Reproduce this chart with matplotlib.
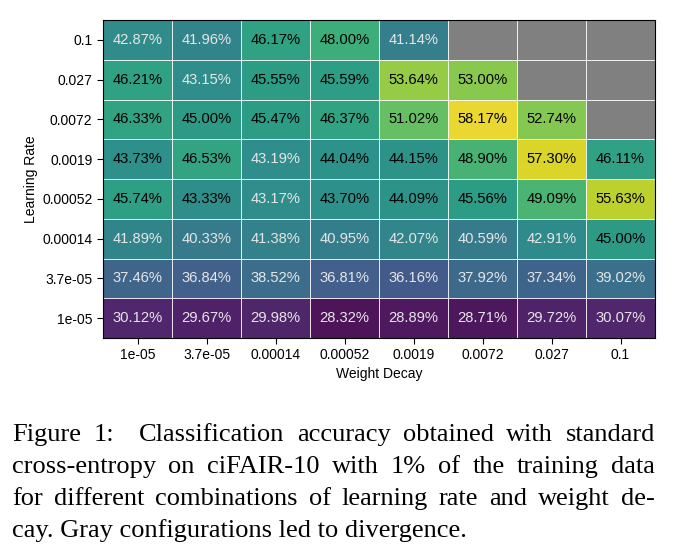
# heatmap of accuracy over learning rate / weight decay grid

import numpy as np
import matplotlib
matplotlib.use("Agg")
import matplotlib.pyplot as plt

plt.rcParams["font.family"] = ["Liberation Sans", "DejaVu Sans"]

# Data (rows top -> bottom)

learning_rates = ["0.1", "0.027", "0.0072", "0.0019", "0.00052", "0.00014", "3.7e-05", "1e-05"]
weight_decays = ["1e-05", "3.7e-05", "0.00014", "0.00052", "0.0019", "0.0072", "0.027", "0.1"]

nan = np.nan
acc_lr_0_1 = [42.87, 41.96, 46.17, 48.00, 41.14, nan, nan, nan]
acc_lr_0_027 = [46.21, 43.15, 45.55, 45.59, 53.64, 53.00, nan, nan]
acc_lr_0_0072 = [46.33, 45.00, 45.47, 46.37, 51.02, 58.17, 52.74, nan]
acc_lr_0_0019 = [43.73, 46.53, 43.19, 44.04, 44.15, 48.90, 57.30, 46.11]
acc_lr_0_00052 = [45.74, 43.33, 43.17, 43.70, 44.09, 45.56, 49.09, 55.63]
acc_lr_0_00014 = [41.89, 40.33, 41.38, 40.95, 42.07, 40.59, 42.91, 45.00]
acc_lr_3_7e_05 = [37.46, 36.84, 38.52, 36.81, 36.16, 37.92, 37.34, 39.02]
acc_lr_1e_05 = [30.12, 29.67, 29.98, 28.32, 28.89, 28.71, 29.72, 30.07]

acc = np.array([acc_lr_0_1, acc_lr_0_027, acc_lr_0_0072, acc_lr_0_0019,
                acc_lr_0_00052, acc_lr_0_00014, acc_lr_3_7e_05, acc_lr_1e_05])

caption_lines = [
    "Figure 1:  Classification accuracy obtained with standard",
    "cross-entropy on ciFAIR-10 with 1% of the training data",
    "for different combinations of learning rate and weight de-",
    "cay. Gray configurations led to divergence.",
]

# Plot

fig = plt.figure(figsize=(6.8, 5.54), dpi=100)
ax = fig.add_axes([103 / 680, 1 - 338 / 554, 552 / 680, 318 / 554])

vmin, vmax = np.nanmin(acc), np.nanmax(acc)
cmap = plt.get_cmap("viridis").copy()
cmap.set_bad("#808080")
masked = np.ma.masked_invalid(acc)

ax.pcolormesh(np.arange(len(weight_decays) + 1), np.arange(len(learning_rates) + 1),
              masked, cmap=cmap, vmin=vmin, vmax=vmax, alpha=0.85,
              edgecolor=(1, 1, 1, 0.15), linewidth=0.6)
ax.set_facecolor("#808080")
ax.set_xlim(0, len(weight_decays))
ax.set_ylim(len(learning_rates), 0)

thresh = (vmin + vmax) / 2
for i in range(acc.shape[0]):
    for j in range(acc.shape[1]):
        v = acc[i, j]
        if np.isnan(v):
            continue
        ax.text(j + 0.5, i + 0.5, f"{v:.2f}%", ha="center", va="center",
                fontsize=10.6, color="black" if v > thresh else "#e6e6e6")

ax.set_xticks(np.arange(len(weight_decays)) + 0.5)
ax.set_xticklabels(weight_decays, fontsize=10)
ax.set_yticks(np.arange(len(learning_rates)) + 0.5)
ax.set_yticklabels(learning_rates, fontsize=10)
ax.tick_params(length=4, width=0.8)
ax.set_xlabel("Weight Decay", fontsize=10, labelpad=3)
ax.set_ylabel("Learning Rate", fontsize=10, labelpad=3)
for s in ax.spines.values():
    s.set_linewidth(0.8)

# Caption, justified line by line

serif = ["Liberation Serif", "DejaVu Serif"]
left, right = 12 / 680, 655 / 680
line_y = [441, 473, 505, 537]
fs = 19
fig.canvas.draw()
renderer = fig.canvas.get_renderer()
for k, line in enumerate(caption_lines):
    y = 1 - line_y[k] / 554
    if k == len(caption_lines) - 1:
        fig.text(left, y, line, fontsize=fs, family=serif, va="baseline")
        continue
    words = line.split(" ")
    texts = [fig.text(0, y, w, fontsize=fs, family=serif, va="baseline") for w in words]
    widths = [t.get_window_extent(renderer).width / fig.bbox.width for t in texts]
    gap = (right - left - sum(widths)) / (len(words) - 1)
    x = left
    for t, w in zip(texts, widths):
        t.set_x(x)
        x += w + gap

fig.savefig("out.png", dpi=100)
